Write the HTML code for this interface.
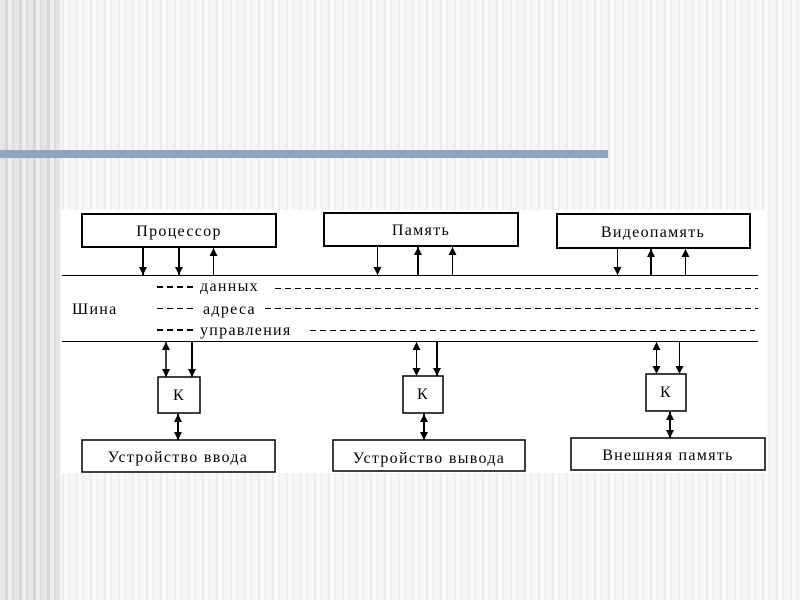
<!DOCTYPE html>
<html><head><meta charset="utf-8"><style>
body{margin:0;width:800px;height:600px;overflow:hidden;position:relative;
background:repeating-linear-gradient(90deg,#f7f7f7 0 6px,#ececec 6px 8px,#fbfbfb 8px 12px,#f0f0f0 12px 14px);}
.left{position:absolute;left:0;top:0;width:60px;height:600px;
background:repeating-linear-gradient(90deg,#e6e6e6 0 5px,#d6d6d6 5px 8px,#eeeeee 8px 12px,#dcdcdc 12px 14px);}
.bar{position:absolute;left:0;top:150px;width:608px;height:8px;background:#8fa6bd;}
</style></head><body>
<div class="left"></div>
<div class="bar"></div>
<svg width="800" height="600" style="position:absolute;left:0;top:0" font-family="Liberation Serif, serif" font-size="16" letter-spacing="1.3">
<defs>
<marker id="a" markerWidth="8" markerHeight="8" refX="8" refY="4" orient="auto-start-reverse" markerUnits="userSpaceOnUse"><path d="M0,0 L8,4 L0,8 z" fill="#000"/></marker>
</defs>
<rect x="61" y="210" width="705" height="263" fill="#fff"/>
<g fill="#fff" stroke="#000" stroke-width="2">
<rect x="82" y="214" width="194" height="33"/>
<rect x="324" y="213" width="194" height="33"/>
<rect x="557" y="214" width="193" height="34"/>
<rect x="158" y="377" width="42" height="36" stroke-width="1.5"/>
<rect x="403" y="376" width="40" height="37" stroke-width="1.5"/>
<rect x="646" y="374" width="40" height="37" stroke-width="1.5"/>
<rect x="82" y="440" width="193" height="32" stroke-width="1.5"/>
<rect x="333" y="440" width="192" height="31" stroke-width="1.5"/>
<rect x="571" y="438" width="194" height="32" stroke-width="1.5"/>
</g>
<g text-anchor="middle">
<text x="179" y="236">Процессор</text>
<text x="421" y="235">Память</text>
<text x="653" y="237">Видеопамять</text>
<text x="179" y="400">К</text>
<text x="423" y="399">К</text>
<text x="666" y="397">К</text>
<text x="178" y="462">Устройство ввода</text>
<text x="429" y="463">Устройство вывода</text>
<text x="668" y="460">Внешняя память</text>
</g>
<text x="72" y="314">Шина</text>
<text x="200" y="291">данных</text>
<text x="203" y="314">адреса</text>
<text x="200" y="335">управления</text>
<g stroke="#000" stroke-width="1">
<line x1="62" y1="275.5" x2="758" y2="275.5"/>
<line x1="62" y1="341.5" x2="758" y2="341.5"/>
</g>
<g stroke="#000" stroke-width="1" stroke-dasharray="6,4">
<line x1="157" y1="287" x2="196" y2="287" stroke-width="2"/>
<line x1="275" y1="288.5" x2="758" y2="288.5"/>
<line x1="157" y1="308.5" x2="196" y2="308.5"/>
<line x1="265" y1="308.5" x2="758" y2="308.5"/>
<line x1="157" y1="330" x2="196" y2="330" stroke-width="2"/>
<line x1="310" y1="330.5" x2="755" y2="330.5"/>
</g>
<g stroke="#000" stroke-width="2">
<line x1="143" y1="247" x2="143" y2="275" marker-end="url(#a)"/>
<line x1="179" y1="247" x2="179" y2="275" marker-end="url(#a)"/>
<line x1="213.5" y1="275" x2="213.5" y2="248" marker-end="url(#a)" stroke-width="1"/>
<line x1="377.5" y1="246" x2="377.5" y2="275" marker-end="url(#a)" stroke-width="1"/>
<line x1="418" y1="275" x2="418" y2="247" marker-end="url(#a)"/>
<line x1="452.5" y1="275" x2="452.5" y2="247" marker-end="url(#a)" stroke-width="1"/>
<line x1="617.5" y1="248" x2="617.5" y2="275" marker-end="url(#a)" stroke-width="1"/>
<line x1="651" y1="275" x2="651" y2="249" marker-end="url(#a)"/>
<line x1="685.5" y1="275" x2="685.5" y2="249" marker-end="url(#a)" stroke-width="1"/>
<line x1="166" y1="342" x2="166" y2="377" marker-start="url(#a)" marker-end="url(#a)" stroke-width="1.5"/>
<line x1="192" y1="341" x2="192" y2="377" marker-end="url(#a)"/>
<line x1="178" y1="414" x2="178" y2="440" marker-start="url(#a)" marker-end="url(#a)"/>
<line x1="416.5" y1="342" x2="416.5" y2="376" marker-start="url(#a)" marker-end="url(#a)" stroke-width="1"/>
<line x1="437" y1="341" x2="437" y2="376" marker-end="url(#a)"/>
<line x1="424" y1="414" x2="424" y2="440" marker-start="url(#a)" marker-end="url(#a)"/>
<line x1="656.5" y1="342" x2="656.5" y2="374" marker-start="url(#a)" marker-end="url(#a)" stroke-width="1"/>
<line x1="679.5" y1="341" x2="679.5" y2="374" marker-end="url(#a)" stroke-width="1"/>
<line x1="670" y1="412" x2="670" y2="438" marker-start="url(#a)" marker-end="url(#a)"/>
</g>
</svg>
</body></html>
